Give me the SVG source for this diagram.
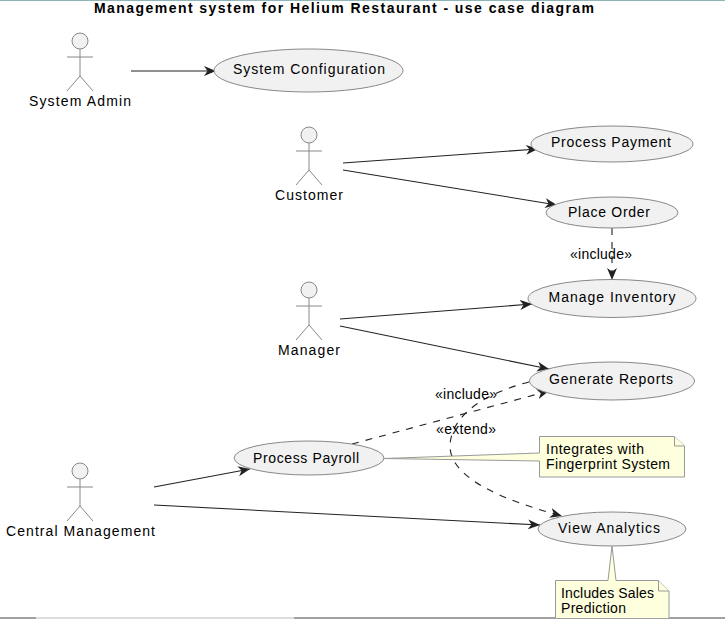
<svg xmlns="http://www.w3.org/2000/svg" width="725" height="619" viewBox="0 0 725 619">
<style>
text{font-family:"Liberation Sans",Arial,sans-serif;font-size:14px;fill:#000}
.c{text-anchor:middle}
.title{font-weight:bold}
.uc{fill:#f1f1f1;stroke:#888;stroke-width:1}
.actor circle{fill:#f1f1f1;stroke:#888;stroke-width:1}
.actor path{fill:none;stroke:#888;stroke-width:1}
.note{fill:#feffdd;stroke:#999;stroke-width:1}
.fold{fill:#feffdd;stroke:#999;stroke-width:1}
.l{fill:none;stroke:#222;stroke-width:1.1;marker-end:url(#a)}
.d{fill:none;stroke:#222;stroke-width:1.1;stroke-dasharray:7 7;marker-end:url(#a)}
</style>
<defs>
<marker id="a" markerUnits="userSpaceOnUse" markerWidth="14" markerHeight="12" refX="12" refY="5" orient="auto" viewBox="0 0 14 10">
<path d="M0 0L12 5L0 10L3.5 5Z" fill="#222"/>
</marker>
</defs>
<rect width="725" height="619" fill="#fff"/>
<path d="M0 .5H725" stroke="#8fb5b8" stroke-width="1"/>
<path d="M0 618H36M294 618H725" stroke="#444" stroke-width="1.2"/>
<path d="M36 618H294" stroke="#bbb" stroke-width="1.2"/>
<text class="title c" x="344" y="13" textLength="500">Management system for Helium Restaurant - use case diagram</text>
<g id="connectors">
<path class="l" d="M131 71H216"/>
<path class="l" d="M343 163L538 149"/>
<path class="l" d="M343 170L557 205"/>
<path class="d" d="M612 228V280"/>
<path class="l" d="M340 319L532 304"/>
<path class="l" d="M340 326L549 369"/>
<path class="d" d="M352 444L549 391"/>
<path class="l" d="M154 487L250 469"/>
<path class="l" d="M154 505L540 525"/>
<path class="d" d="M529 382C490 392 452 412 450 445C449 480 510 502 562 516"/>
</g>
<g id="sys-admin" class="actor"><circle cx="80" cy="41" r="8"/><path d="M80 49V76M67 57H93M67 91L80 76L93 91"/><text class="c" x="80" y="106" textLength="102">System Admin</text></g>
<g id="customer" class="actor"><circle cx="309" cy="135" r="8"/><path d="M309 143V170M296 151H322M296 185L309 170L322 185"/><text class="c" x="309" y="200" textLength="68">Customer</text></g>
<g id="manager" class="actor"><circle cx="309" cy="290" r="8"/><path d="M309 298V325M296 306H322M296 340L309 325L322 340"/><text class="c" x="309" y="355" textLength="62">Manager</text></g>
<g id="central" class="actor"><circle cx="80" cy="471" r="8"/><path d="M80 479V506M67 487H93M67 521L80 506L93 521"/><text class="c" x="80.500" y="536" textLength="149">Central Management</text></g>
<g id="uc-config"><ellipse class="uc" cx="308.500" cy="70.500" rx="94.500" ry="21.500"/><text class="c" x="309" y="74" textLength="152">System Configuration</text></g>
<g id="uc-payment"><ellipse class="uc" cx="612" cy="144" rx="81" ry="18"/><text class="c" x="611" y="147" textLength="120">Process Payment</text></g>
<g id="uc-order"><ellipse class="uc" cx="612" cy="212.500" rx="66" ry="15.500"/><text class="c" x="609" y="217" textLength="82">Place Order</text></g>
<g id="uc-inventory"><ellipse class="uc" cx="612" cy="298.500" rx="84" ry="19"/><text class="c" x="612" y="302" textLength="127">Manage Inventory</text></g>
<g id="uc-reports"><ellipse class="uc" cx="612" cy="381" rx="82.500" ry="19"/><text class="c" x="611" y="384" textLength="124">Generate Reports</text></g>
<g id="uc-payroll"><ellipse class="uc" cx="309" cy="458" rx="75" ry="17"/><text class="c" x="306" y="463" textLength="106">Process Payroll</text></g>
<g id="uc-analytics"><ellipse class="uc" cx="612" cy="529" rx="74" ry="17"/><text class="c" x="609" y="533" textLength="102">View Analytics</text></g>
<g id="note-fingerprint"><path class="note" d="M384 458.500L539.500 453V436.500H674.500L684.500 446V477H539.500V461Z"/><path class="fold" d="M674.500 436.500V446H684.500"/><text x="546" y="454" textLength="98">Integrates with</text><text x="546" y="469" textLength="124">Fingerprint System</text></g>
<g id="note-sales"><path class="note" d="M555.500 618V580.500H608L612 546L616 580.500H658.500L669 591V618"/><path class="fold" d="M658.500 580.500V591H669"/><text x="561" y="598" textLength="93">Includes Sales</text><text x="561" y="613" textLength="65">Prediction</text></g>
<g id="labels"><text class="c" x="601" y="259" textLength="62">«include»</text><text class="c" x="466" y="399" textLength="62">«include»</text><text class="c" x="466" y="434" textLength="60">«extend»</text></g>
</svg>
